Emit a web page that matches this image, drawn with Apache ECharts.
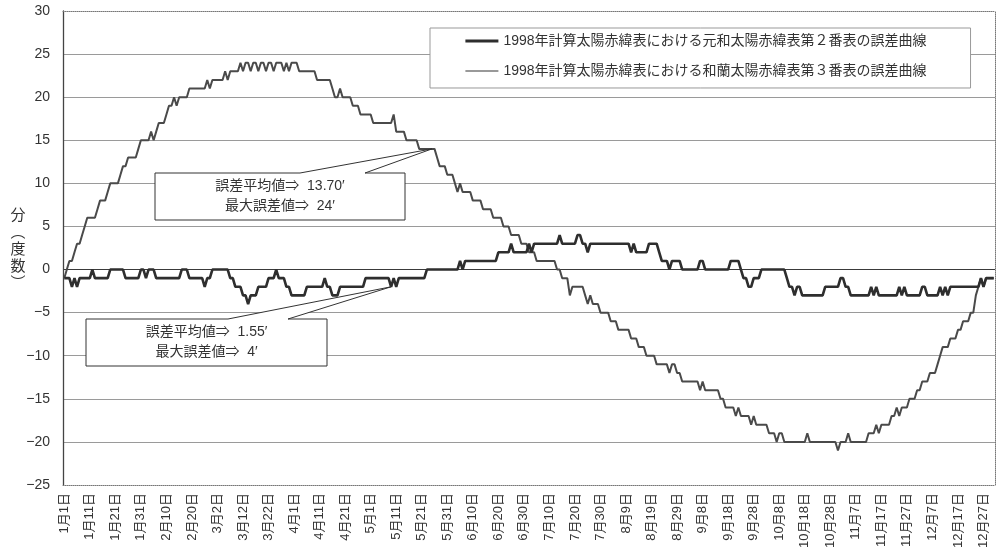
<!DOCTYPE html>
<html>
<head>
<meta charset="utf-8">
<script src="https://cdn.jsdelivr.net/npm/echarts@6/dist/echarts.min.js"></script>
<style>
html, body { margin: 0; padding: 0; background: #fff; }
#chart { width: 996px; height: 556px; }
</style>
</head>
<body>
<div id="chart"></div>
<script>
var FONT = "'Liberation Sans', 'Noto Sans CJK JP', sans-serif";

// 1998年（平年）の日付カテゴリ
var monthDays = [31, 28, 31, 30, 31, 30, 31, 31, 30, 31, 30, 31];
var days = [];
monthDays.forEach(function (n, m) {
  for (var d = 1; d <= n; d++) days.push((m + 1) + '月' + d + '日');
});

var yMin = -25, yMax = 30, yStep = 5;

var seriesNames = [
  '1998年計算太陽赤緯表における元和太陽赤緯表第２番表の誤差曲線',
  '1998年計算太陽赤緯表における和蘭太陽赤緯表第３番表の誤差曲線'
];

// 図から読んだ誤差（分）: [値, 続く日数]
var genwaRuns = [
  [-1, 3], [-2, 1], [-1, 1], [-2, 1], [-1, 5], [0, 1], [-1, 6], [0, 6], [-1, 6],
  [0, 2], [-1, 1], [0, 3], [-1, 10], [0, 3], [-1, 6], [-2, 1], [-1, 2], [0, 7],
  [-1, 2], [-2, 3], [-3, 2], [-4, 1], [-3, 3], [-2, 4], [-1, 3], [0, 1], [-1, 3],
  [-2, 2], [-3, 6], [-2, 7], [-1, 1], [-2, 2], [-3, 3], [-2, 10], [-1, 10],
  [-2, 1], [-1, 1], [-2, 1], [-1, 11], [0, 13], [1, 1], [0, 1], [1, 13], [2, 5],
  [3, 1], [2, 6], [3, 1], [2, 1], [3, 10], [4, 1], [3, 6], [4, 2], [3, 2], [2, 1],
  [3, 16], [2, 1], [3, 1], [2, 5], [3, 4], [2, 1], [1, 3], [0, 1], [1, 4], [0, 7],
  [1, 2], [0, 10], [1, 4], [0, 1], [-1, 2], [-2, 2], [-1, 3], [0, 10], [-1, 1],
  [-2, 2], [-3, 1], [-2, 2], [-3, 9], [-2, 6], [-1, 2], [-2, 2], [-3, 8], [-2, 1],
  [-3, 1], [-2, 1], [-3, 8], [-2, 1], [-3, 1], [-2, 1], [-3, 6], [-2, 2], [-3, 5],
  [-2, 1], [-3, 1], [-2, 1], [-3, 1], [-2, 12], [-1, 1], [-2, 1], [-1, 4]
];
var orandaRuns = [
  [-1, 1], [0, 1], [1, 2], [2, 1], [3, 2], [4, 1], [5, 1], [6, 4], [7, 1], [8, 3],
  [9, 1], [10, 4], [11, 1], [12, 2], [13, 4], [14, 1], [15, 4], [16, 1], [15, 1],
  [16, 1], [17, 3], [18, 1], [19, 2], [20, 1], [19, 1], [20, 4], [21, 7], [22, 1],
  [21, 1], [22, 5], [23, 1], [22, 1], [23, 4],
  [24, 1], [23, 1], [24, 2], [23, 1], [24, 2], [23, 1], [24, 2], [23, 1], [24, 2],
  [23, 1], [24, 3], [23, 1], [24, 1], [23, 1], [24, 3],
  [23, 7], [22, 6], [21, 1], [20, 2], [21, 1], [20, 4], [19, 3], [18, 5], [17, 8],
  [18, 1], [16, 4], [15, 5], [14, 7], [13, 1], [12, 3], [11, 3], [10, 1], [9, 1],
  [10, 1], [9, 4], [8, 4], [7, 4], [6, 4], [5, 3], [4, 4], [3, 3], [2, 3], [1, 8],
  [0, 2], [-1, 3], [-3, 1], [-2, 5], [-3, 1], [-4, 1], [-3, 1], [-4, 3], [-5, 4],
  [-6, 3], [-7, 5], [-8, 3], [-9, 3], [-10, 4], [-11, 5], [-12, 1], [-11, 2],
  [-12, 2], [-13, 7], [-14, 1], [-13, 1], [-14, 6], [-15, 2], [-16, 3], [-16, 1],
  [-17, 1], [-16, 1], [-17, 4], [-18, 1], [-17, 1], [-18, 5], [-19, 3], [-20, 1],
  [-19, 2], [-20, 9], [-19, 1], [-20, 11], [-21, 1], [-20, 3], [-19, 1], [-20, 7],
  [-19, 3], [-18, 1], [-19, 1], [-18, 4], [-17, 2], [-16, 1], [-17, 1], [-16, 3],
  [-15, 3], [-14, 2], [-13, 3], [-12, 3], [-11, 1], [-10, 1], [-9, 3], [-8, 3],
  [-7, 2], [-6, 3], [-5, 2], [-3, 1], [-2, 1], [-1, 1], [-2, 1], [-1, 4]
];

function expand(runs) {
  var out = [];
  runs.forEach(function (r) {
    for (var i = 0; i < r[1]; i++) out.push(r[0]);
  });
  return out;
}
var genwaErr = expand(genwaRuns);
var orandaErr = expand(orandaRuns);

// 吹き出し注記（tip はデータ座標 [日, 値]）
var notes = [
  { lines: ['誤差平均値⇒  13.70′', '最大誤差値⇒  24′'], tip: [144, 14],
    box: [155, 173, 405, 220], base: [300, 365] },
  { lines: ['誤差平均値⇒  1.55′', '最大誤差値⇒  4′'], tip: [128, -2],
    box: [86, 319, 327, 366], base: [228, 288] }
];

// 目盛線: 上下端は点線の枠、0 は濃く
var splitColors = [];
for (var v = yMin; v <= yMax; v += yStep) {
  splitColors.push(v === yMin || v === yMax ? 'rgba(0,0,0,0)' : (v === 0 ? '#3a3a3a' : '#9a9a9a'));
}

var chart = echarts.init(document.getElementById('chart'));
chart.setOption({
  animation: false,
  backgroundColor: '#fff',
  textStyle: { fontFamily: FONT },
  grid: { left: 63, right: 1, top: 11, bottom: 71 },
  legend: {
    orient: 'vertical',
    left: 430,
    top: 28,
    padding: [6, 44, 10, 34],
    itemGap: 16,
    itemWidth: 33,
    itemHeight: 14,
    backgroundColor: '#fff',
    borderColor: '#999',
    borderWidth: 1,
    itemStyle: { color: 'rgba(0,0,0,0)', borderWidth: 0 },
    textStyle: { fontSize: 14, color: '#333', fontFamily: FONT },
    data: [
      { name: seriesNames[0], lineStyle: { width: 2.8, color: '#2e2e2e' } },
      { name: seriesNames[1], lineStyle: { width: 1.3, color: '#777' } }
    ]
  },
  xAxis: [{
    type: 'category',
    data: days,
    boundaryGap: true,
    axisLine: { show: true, onZero: false, lineStyle: { color: '#777', type: 'dotted', width: 1 } },
    axisTick: { show: false },
    axisLabel: { interval: 9, rotate: 90, margin: 8, fontSize: 13, color: '#333', fontFamily: FONT },
    splitLine: { show: false }
  }, {
    type: 'category',
    data: days,
    position: 'top',
    boundaryGap: true,
    axisLine: { show: true, onZero: false, lineStyle: { color: '#777', type: 'dotted', width: 1 } },
    axisTick: { show: false },
    axisLabel: { show: false }
  }],
  yAxis: [{
    type: 'value',
    min: yMin,
    max: yMax,
    interval: yStep,
    axisLine: { show: true, lineStyle: { color: '#444', width: 1.3 } },
    axisTick: { show: false },
    axisLabel: {
      margin: 13, fontSize: 14, color: '#333', fontFamily: FONT,
      formatter: function (val) { return String(val).replace('-', '−'); }
    },
    splitLine: { show: true, lineStyle: { color: splitColors, width: 1 } }
  }, {
    type: 'value',
    min: yMin,
    max: yMax,
    interval: yStep,
    position: 'right',
    axisLine: { show: true, lineStyle: { color: '#777', type: 'dotted', width: 1 } },
    axisTick: { show: false },
    axisLabel: { show: false },
    splitLine: { show: false }
  }],
  series: [{
    name: seriesNames[0],
    type: 'line',
    data: genwaErr,
    symbol: 'none',
    z: 3,
    lineStyle: { color: '#2e2e2e', width: 2.6 },
    itemStyle: { color: '#2e2e2e' }
  }, {
    name: seriesNames[1],
    type: 'line',
    data: orandaErr,
    symbol: 'none',
    z: 2,
    lineStyle: { color: '#4a4a4a', width: 2 },
    itemStyle: { color: '#4a4a4a' }
  }]
});

// 注記と縦書きの軸名
var graphics = [{
  type: 'text',
  x: 18,
  y: 250,
  z: 10,
  style: {
    text: '分\n︵\n度\n数\n︶',
    font: '15px ' + FONT,
    fill: '#333',
    lineHeight: 17,
    align: 'center', textAlign: 'center',
    verticalAlign: 'middle', textVerticalAlign: 'middle'
  }
}];
notes.forEach(function (n) {
  var tip = chart.convertToPixel({ xAxisIndex: 0, yAxisIndex: 0 }, n.tip);
  var b = n.box;
  graphics.push({
    type: 'polygon',
    z: 10,
    shape: { points: [[b[0], b[1]], [n.base[0], b[1]], tip, [n.base[1], b[1]], [b[2], b[1]], [b[2], b[3]], [b[0], b[3]]] },
    style: { fill: '#fff', stroke: '#333', lineWidth: 1 }
  });
  var cx = (b[0] + b[2]) / 2, cy = (b[1] + b[3]) / 2;
  n.lines.forEach(function (t, i) {
    graphics.push({
      type: 'text',
      x: cx,
      y: cy + (i === 0 ? -10 : 10),
      z: 11,
      style: {
        text: t,
        font: '14px ' + FONT,
        fill: '#333',
        align: 'center', textAlign: 'center',
        verticalAlign: 'middle', textVerticalAlign: 'middle'
      }
    });
  });
});
chart.setOption({ graphic: graphics });
</script>
</body>
</html>
